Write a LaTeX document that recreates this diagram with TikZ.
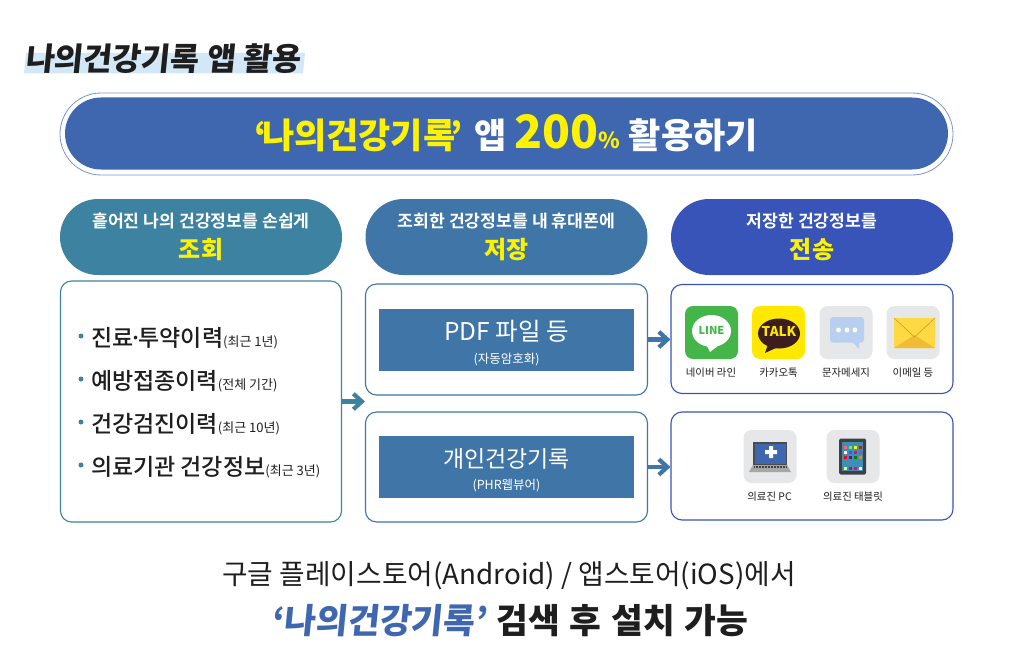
\documentclass[tikz,border=0pt]{standalone}
\usepackage{fontspec}
\setmainfont{Noto Sans CJK KR}[BoldFont={Noto Sans CJK KR Bold}]
\newfontfamily\krreg{Noto Sans CJK KR}
\newfontfamily\krmed{Noto Sans CJK KR Medium}
\newfontfamily\krbold{Noto Sans CJK KR Bold}
\newfontfamily\krblack{Noto Sans CJK KR Black}
\newfontfamily\krslant{Noto Sans CJK KR Black}[FakeSlant=0.1]
\newfontfamily\krwide{Noto Sans CJK KR Black}[WordSpace=1.25]
\usetikzlibrary{arrows.meta}
\definecolor{banner}{HTML}{3F67AF}
\definecolor{teal1}{HTML}{3E82A1}
\definecolor{steel}{HTML}{4075A8}
\definecolor{royal}{HTML}{3854B8}
\definecolor{ink}{HTML}{1E1E1E}
\definecolor{yel}{HTML}{FFF200}
\definecolor{tile}{HTML}{E6E7E9}
\definecolor{hilite}{HTML}{D3E8F7}
\definecolor{linegreen}{HTML}{44B649}
\definecolor{talkbrown}{HTML}{3C1E1E}
\definecolor{talkyel}{HTML}{FFE800}
\definecolor{smsblue}{HTML}{B9CFEF}
\definecolor{mailtop}{HTML}{FFD944}
\definecolor{mailbot}{HTML}{F0BC35}
\definecolor{tabscreen}{HTML}{3E8FB8}
\tikzset{
  x=1pt,y=-1pt,
  txt/.style={inner sep=0pt,outer sep=0pt},
  head/.style={rounded corners=38pt,minimum width=282pt,minimum height=76pt,inner sep=0pt,text=white,align=center},
  panel/.style={draw,line width=1.1pt,rounded corners=11pt,fill=white,inner sep=0pt},
  bar/.style={fill=steel,minimum width=255pt,minimum height=62pt,inner sep=0pt},
  barlabel/.style={txt,text=white,align=center},
  flow/.style={line width=4.6pt,-{Straight Barb[length=8.5pt,width=15.5pt,line width=4.2pt]}},
  tilebox/.style={rounded corners=8pt,minimum width=53pt,minimum height=53pt,inner sep=0pt},
  capt/.style={txt,font=\krreg\fontsize{10.4}{12}\selectfont,text=ink},
  item/.style={txt,anchor=west,font=\krmed\fontsize{23}{26}\selectfont,text=ink},
  dot/.style={circle,fill=teal1,minimum size=5pt,inner sep=0pt},
}
\newcommand{\subnote}[1]{{\krreg\fontsize{13}{14}\selectfont(#1)}}
\begin{document}
\begin{tikzpicture}
\useasboundingbox (0,0) rectangle (1016,666);
% title
\fill[hilite] (26,53) -- (305,53) -- (303,73.5) -- (24,73.5) -- cycle;
\node[txt,anchor=west,text=ink,font=\krslant\fontsize{31.5}{34}\selectfont] (title) at (25,59) {나의건강기록 앱 활용};
% banner
\node[draw=banner!70,line width=.8pt,rounded corners=41pt,minimum width=893pt,minimum height=82pt,inner sep=0pt] (bannerout) at (506.5,134) {};
\node[fill=banner,rounded corners=36pt,minimum width=883pt,minimum height=72pt,inner sep=0pt,font=\krblack\fontsize{35}{40}\selectfont,text=white] (bannerin) at (506.5,133.5)
 {\hspace{-1pt}\textcolor{yel}{‘\kern-4.5pt 나의건강기록\kern-4.5pt ’}\kern11pt 앱\kern8pt\textcolor{yel}{\fontsize{46}{46}\selectfont 200\fontsize{22}{26}\selectfont\%}\kern9pt 활용하기};
% heads
\node[head,fill=teal1] (h1) at (201,237) {\krbold\fontsize{17.2}{24}\selectfont 흩어진 나의 건강정보를 손쉽게\\[8pt]\textcolor{yel}{\krblack\fontsize{24}{26}\selectfont 조회}};
\node[head,fill=steel] (h2) at (506.5,237) {\krbold\fontsize{17.2}{24}\selectfont 조회한 건강정보를 내 휴대폰에\\[8pt]\textcolor{yel}{\krblack\fontsize{24}{26}\selectfont 저장}};
\node[head,fill=royal] (h3) at (812,237) {\krbold\fontsize{17.2}{24}\selectfont 저장한 건강정보를\\[8pt]\textcolor{yel}{\krblack\fontsize{24}{26}\selectfont 전송}};
% panels
\node[panel,draw=teal1,minimum width=281pt,minimum height=241pt] (p1) at (201,401.5) {};
\node[panel,draw=steel,minimum width=282pt,minimum height=111pt] (p2) at (506.5,339.5) {};
\node[panel,draw=steel,minimum width=282pt,minimum height=110pt] (p3) at (506.5,467) {};
\node[panel,draw=royal,minimum width=282pt,minimum height=109pt] (p4) at (812,339) {};
\node[panel,draw=royal,minimum width=282pt,minimum height=108pt] (p5) at (812,466) {};
% list
\node[dot] (d1) at (81,336) {};
\node[dot] (d2) at (81,379) {};
\node[dot] (d3) at (81,422) {};
\node[dot] (d4) at (81,465) {};
\node[item] (i1) at (91,338) {진료\kern-4pt·\kern-4pt투약이력\subnote{최근 1년}};
\node[item] (i2) at (91,381) {예방접종이력\subnote{전체 기간}};
\node[item] (i3) at (91,424) {건강검진이력\subnote{최근 10년}};
\node[item] (i4) at (91,467) {의료기관 건강정보\subnote{최근 3년}};
% bars
\node[bar] (b1) at (506.5,340) {};
\node[barlabel] (b1t) at (506.5,343) {\krreg\fontsize{24.5}{28}\selectfont PDF 파일 등\\[9pt]\krreg\fontsize{12.5}{14}\selectfont(자동암호화)};
\node[bar] (b2) at (506.5,467) {};
\node[barlabel] (b2t) at (506.5,470) {\krreg\fontsize{23}{28}\selectfont 개인건강기록\\[9pt]\krreg\fontsize{12.5}{14}\selectfont(PHR웹뷰어)};
% arrows
\coordinate (midgap) at (365,401.5);
\draw[flow,teal1] (p1.east) -- (midgap);
\draw[flow,steel] (p2.east) -- (p2.east -| p4.west);
\draw[flow,steel] (p3.east) -- (p3.east -| p5.west);
% LINE
\node[tilebox,fill=linegreen] (t1) at (711.5,332.5) {};
\fill[white] (711.5,331) ellipse (19.5 and 16);
\fill[white] (706,344) -- (710,352) -- (723,342) -- cycle;
\node[txt,font=\krblack\fontsize{11}{12}\selectfont,text=linegreen] (t1l) at (711.5,330.5) {LINE};
% TALK
\node[tilebox,fill=talkyel] (t2) at (778.5,332.5) {};
\fill[talkbrown] (779,333.5) ellipse (21 and 15);
\fill[talkbrown] (768,344) -- (765,353) -- (778,347) -- cycle;
\node[txt,font=\krblack\fontsize{13.5}{14}\selectfont,text=talkyel] (t2l) at (779,331.5) {TALK};
% SMS
\node[tilebox,fill=tile] (t3) at (846,332.5) {};
\fill[smsblue,rounded corners=3pt] (830,317) rectangle (864,342.5);
\fill[smsblue] (852.5,342) -- (859,349) -- (859,342) -- cycle;
\fill[white] (838.5,330) circle (2.4) (847,330) circle (2.4) (855,330) circle (2.4);
% mail
\node[tilebox,fill=tile] (t4) at (913,332.5) {};
\fill[mailtop,rounded corners=1pt] (894,318) rectangle (935,348);
\fill[mailbot] (894,348) -- (914.5,335) -- (935,348) -- cycle;
\draw[mailbot!80!black,line width=.5pt] (894,318) -- (914.5,337) -- (935,318);
\node[capt] (c1) at (711,373) {네이버 라인};
\node[capt] (c2) at (778.5,373) {카카오톡};
\node[capt] (c3) at (846,373) {문자메세지};
\node[capt] (c4) at (913,373) {이메일 등};
% laptop
\node[tilebox,fill=tile] (t5) at (770,456.5) {};
\fill[black!70] (753,442) rectangle (787,465);
\fill[banner] (754.5,443.5) rectangle (785.5,463.5);
\fill[white] (769,446) rectangle (773,458) (765,450) rectangle (777,454);
\fill[black!35] (753,465) -- (787,465) -- (791,472) -- (749,472) -- cycle;
\draw[black!75,line width=1.2pt,dash pattern=on 1pt off .5pt] (754,467) -- (786,467);
% tablet
\node[tilebox,fill=tile] (t6) at (853,456.5) {};
\fill[black!75,rounded corners=1.5pt] (839,438.5) rectangle (866,474.5);
\fill[tabscreen] (842,442) rectangle (863,471);
\foreach \xx/\yy/\cc in {845/447/red!60,850/447/green!70,855/447/yellow,860/447/red,845/452/white,850/452/blue!70,855/452/magenta,860/452/violet!70,845/457/red,850/457/violet,855/457/green!50!black,860/457/orange,845/468/yellow!70,850/468/red,855/468/magenta,860/468/white}
  \fill[\cc] (\xx-1.5,\yy-1.5) rectangle (\xx+1.5,\yy+1.5);
\node[capt] (c5) at (769.5,497) {의료진 PC};
\node[capt] (c6) at (853,497) {의료진 태블릿};
% bottom
\node[txt,text=ink,font=\krreg\fontsize{27.8}{30}\selectfont] (f1) at (509,576) {구글 플레이스토어(Android) / 앱스토어(iOS)에서};
\node[txt,text=ink,font=\krwide\fontsize{34.5}{38}\selectfont] (f2) at (510,621) {{\krslant\textcolor{banner}{‘나의건강기록’}} 검색 후 설치 가능};
\end{tikzpicture}
\end{document}
